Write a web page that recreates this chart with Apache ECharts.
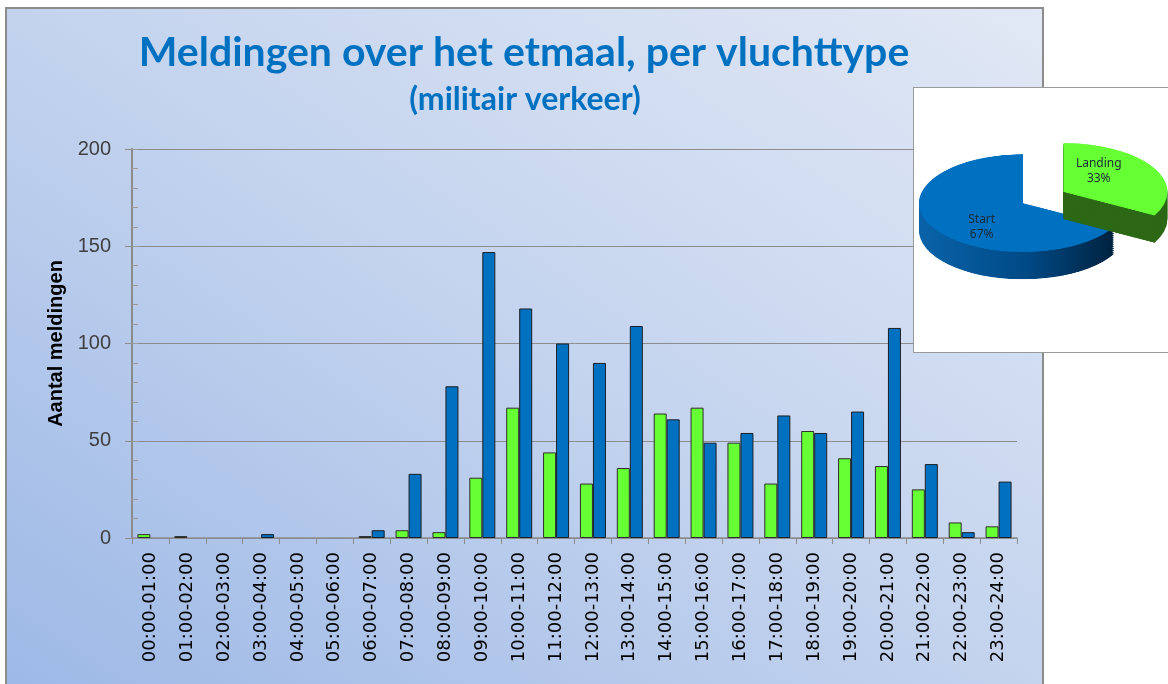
<!DOCTYPE html>
<html>
<head>
<meta charset="utf-8">
<title>Meldingen over het etmaal</title>
<script src="https://cdn.jsdelivr.net/npm/echarts@6/dist/echarts.min.js"></script>
<style>
  html, body { margin: 0; padding: 0; background: #fff; overflow: hidden; }
  #frame {
    position: absolute; left: 5px; top: 7px; width: 1035px; height: 700px;
    border: 2px solid #8c8c8c;
    background: linear-gradient(to top right, #9cb8e6 0%, #c3d3ee 50%, #e1e8f5 100%);
  }
  #main { position: absolute; left: 0; top: 0; width: 1168px; height: 684px; }
  #pieBox {
    position: absolute; left: 913px; top: 87px; width: 270px; height: 264px;
    background: #fff; border: 1px solid #9a9a9a; overflow: hidden;
  }
  #pie3d {
    position: absolute; left: 0; top: 0; width: 255px; height: 562px;
    transform: scaleY(0.47); transform-origin: 0 0;
  }
  #pieLabels { position: absolute; left: 0; top: 0; width: 255px; height: 264px; }
</style>
</head>
<body>
<div id="frame"></div>
<div id="main"></div>
<div id="pieBox">
  <div id="pie3d"></div>
  <div id="pieLabels"></div>
</div>
<script>
// uurblokken
var hours = [
  "00:00-01:00", "01:00-02:00", "02:00-03:00", "03:00-04:00", "04:00-05:00", "05:00-06:00",
  "06:00-07:00", "07:00-08:00", "08:00-09:00", "09:00-10:00", "10:00-11:00", "11:00-12:00",
  "12:00-13:00", "13:00-14:00", "14:00-15:00", "15:00-16:00", "16:00-17:00", "17:00-18:00",
  "18:00-19:00", "19:00-20:00", "20:00-21:00", "21:00-22:00", "22:00-23:00", "23:00-24:00"
];
var landing = [2, 1, 0, 0, 0, 0, 1, 4, 3, 31, 67, 44, 28, 36, 64, 67, 49, 28, 55, 41, 37, 25, 8, 6];
var start = [0, 0, 0, 2, 0, 0, 4, 33, 78, 147, 118, 100, 90, 109, 61, 49, 54, 63, 54, 65, 108, 38, 3, 29];
var yTicks = [0, 50, 100, 150, 200];

var pieNames = ["Landing", "Start"];
var pieValues = [33, 67];

// lege uren geen balkje laten tekenen
function noZero(arr) {
  return arr.map(function (v) { return v === 0 ? "-" : v; });
}

var main = echarts.init(document.getElementById("main"));
main.setOption({
  animation: false,
  graphic: [
    {
      type: "text", x: 524, y: 53,
      style: {
        text: "Meldingen over het etmaal, per vluchttype",
        font: "bold 41px Lato", fill: "#0070C0",
        textAlign: "center", textVerticalAlign: "middle"
      }
    },
    {
      type: "text", x: 525, y: 100,
      style: {
        text: "(militair verkeer)",
        font: "bold 32px Lato", fill: "#0070C0",
        textAlign: "center", textVerticalAlign: "middle"
      }
    }
  ],
  grid: { left: 132, top: 149, width: 885, height: 389 },
  xAxis: {
    type: "category",
    data: hours,
    axisLine: { lineStyle: { color: "#8c8c8c", width: 1.5 } },
    axisTick: { show: true, length: 6, lineStyle: { color: "#8c8c8c" } },
    axisLabel: {
      interval: 0, rotate: 90, margin: 14,
      fontSize: 18, fontFamily: "DejaVu Sans", color: "#000"
    }
  },
  yAxis: [
    {
      type: "value",
      min: yTicks[0], max: yTicks[yTicks.length - 1], interval: 50,
      name: "Aantal meldingen",
      nameLocation: "middle", nameRotate: 90, nameGap: 64,
      nameTextStyle: { fontSize: 20, fontWeight: "bold", color: "#000", fontFamily: "Liberation Sans" },
      axisLine: { show: true, lineStyle: { color: "#8c8c8c", width: 2 } },
      axisTick: { show: true, length: 7, lineStyle: { color: "#8c8c8c" } },
      axisLabel: { margin: 21, fontSize: 20, color: "#404040", fontFamily: "Liberation Sans" },
      splitLine: { show: true, lineStyle: { color: "#8c8c8c", width: 1 } }
    },
    {
      // kleine streepjes binnen de as, om de 10
      type: "value",
      min: 0, max: 200, interval: 10,
      position: "left",
      axisLine: { show: false },
      axisTick: { show: true, inside: true, length: 6, lineStyle: { color: "#9a9a9a" } },
      axisLabel: { show: false },
      splitLine: { show: false }
    }
  ],
  series: [
    {
      name: "Landing", type: "bar", data: noZero(landing),
      barWidth: 13, barGap: "0%",
      itemStyle: { color: "#66FF33", borderColor: "#2e2e2e", borderWidth: 1 }
    },
    {
      name: "Start", type: "bar", data: noZero(start),
      barWidth: 13, barGap: "0%",
      itemStyle: { color: "#0070C0", borderColor: "#1a1f26", borderWidth: 1 }
    }
  ]
});

// 3D-achtige taart: platgedrukte div, donkere lagen eronder
var topColors = ["#66FF33", "#0070C0"];
var sideColors = [
  "#2c6815",
  {
    type: "linear", x: 0, y: 0, x2: 1, y2: 0,
    colorStops: [
      { offset: 0, color: "#0a63aa" },
      { offset: 0.55, color: "#004a86" },
      { offset: 1, color: "#00223f" }
    ]
  }
];
var pieCenterX = 109, pieCenterY = 245, pieR = 104, pieDepth = 58;

function pieData(colors) {
  return pieNames.map(function (n, i) {
    return {
      name: n, value: pieValues[i], selected: i === 0,
      itemStyle: { color: colors[i] },
      select: { itemStyle: { color: colors[i] } }
    };
  });
}

function pieLayer(dy, colors) {
  return {
    type: "pie",
    silent: true,
    radius: pieR,
    center: [pieCenterX, pieCenterY + dy],
    startAngle: 90,
    selectedMode: "single",
    selectedOffset: 47,
    label: { show: false },
    labelLine: { show: false },
    data: pieData(colors)
  };
}

var layers = [];
for (var d = pieDepth; d > 0; d -= 4) {
  layers.push(pieLayer(d, sideColors));
}
layers.push(pieLayer(0, topColors)); // bovenvlak

var pie3d = echarts.init(document.getElementById("pie3d"));
pie3d.setOption({ animation: false, series: layers });

var pieLabels = echarts.init(document.getElementById("pieLabels"));
pieLabels.setOption({
  animation: false,
  series: [{
    type: "pie",
    silent: true,
    radius: 90,
    center: [109, 115],
    startAngle: 90,
    selectedMode: "single",
    selectedOffset: 40,
    itemStyle: { color: "rgba(0,0,0,0)" },
    label: {
      show: true, position: "inside",
      formatter: function (p) {
        // Landing staat in het origineel wat lager
        return (p.dataIndex === 0 ? "{gap|}\n" : "") + p.name + "\n" + Math.round(p.percent) + "%";
      },
      rich: { gap: { height: 26, lineHeight: 26 } },
      fontSize: 12, lineHeight: 15, color: "#1c2a38", fontFamily: "Noto Sans"
    },
    labelLine: { show: false },
    data: pieNames.map(function (n, i) {
      return { name: n, value: pieValues[i], selected: i === 0 };
    })
  }]
});
</script>
</body>
</html>
